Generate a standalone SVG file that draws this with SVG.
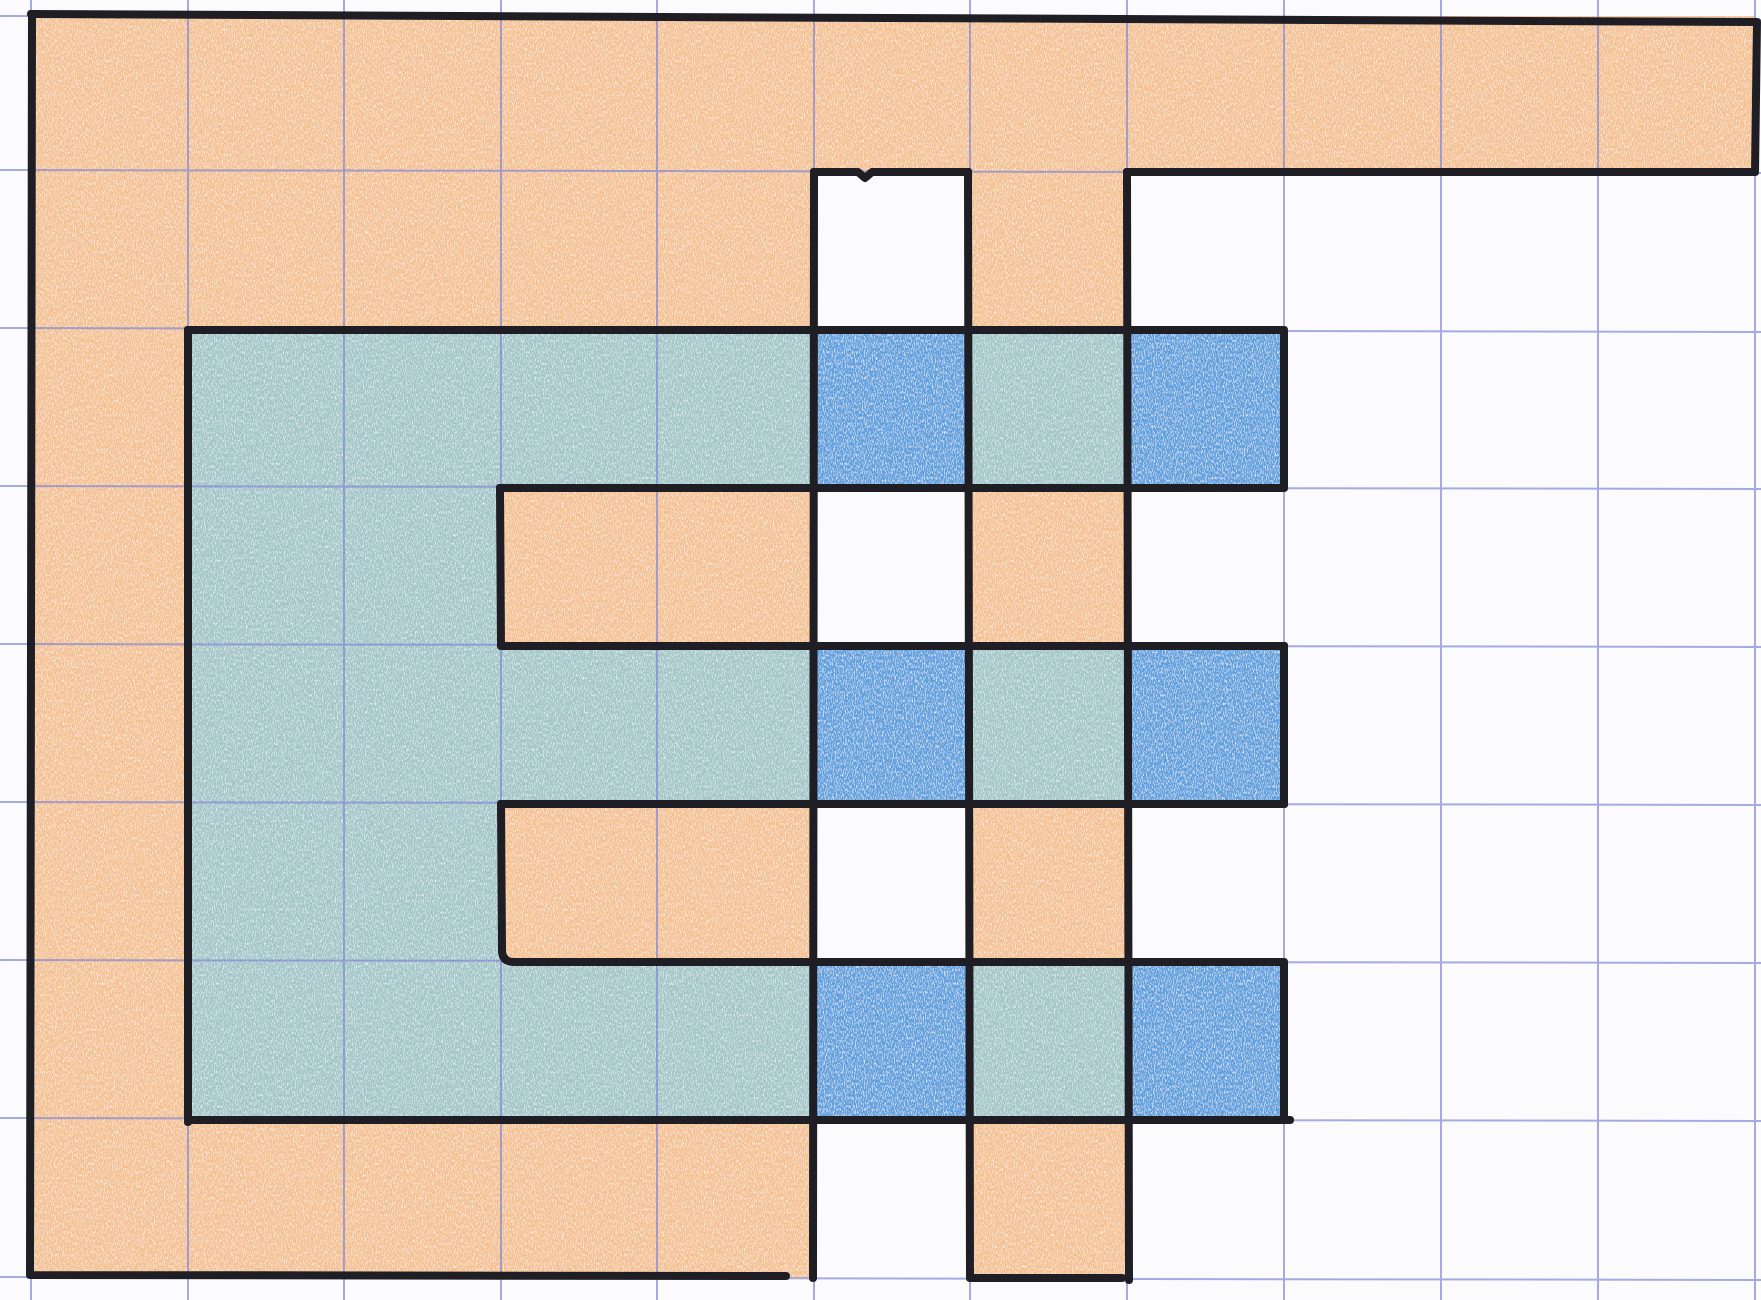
<svg xmlns="http://www.w3.org/2000/svg" width="1761" height="1300" viewBox="0 0 1761 1300">
<defs>
<filter id="pencil" x="0" y="0" width="100%" height="100%">
<feTurbulence type="fractalNoise" baseFrequency="0.9 0.35" numOctaves="2" seed="3" result="n"/>
<feColorMatrix in="n" type="matrix" values="0 0 0 0 1  0 0 0 0 1  0 0 0 0 1  0 0 0 1.6 -0.7" result="speck"/>
<feComposite in="speck" in2="SourceGraphic" operator="in" result="sp"/>
<feMerge><feMergeNode in="SourceGraphic"/><feMergeNode in="sp"/></feMerge>
</filter>
<style>
.or{fill:#f4c192}
.tl{fill:#a3c6c8}
.bl{fill:#5fa0de}
.grid{stroke:#8288d6;stroke-width:2;opacity:0.7;fill:none}
.ink{stroke:#1e1e24;stroke-width:8;stroke-linecap:round;stroke-linejoin:round;fill:none}
</style>
</defs>
<rect width="1761" height="1300" fill="#fbfbfe"/>
<g id="fills" filter="url(#pencil)">
<rect class="or" x="31" y="16" width="1724" height="156"/>
<rect class="or" x="31" y="172" width="157" height="1106"/>
<rect class="or" x="188" y="172" width="626" height="158"/>
<rect class="or" x="188" y="1120" width="626" height="158"/>
<rect class="or" x="970" y="172" width="157" height="1106"/>
<rect class="or" x="500" y="488" width="314" height="158"/>
<rect class="or" x="500" y="804" width="314" height="158"/>
<rect class="tl" x="188" y="330" width="626" height="158"/>
<rect class="tl" x="188" y="488" width="312" height="632"/>
<rect class="tl" x="500" y="646" width="314" height="158"/>
<rect class="tl" x="500" y="962" width="314" height="158"/>
<rect class="tl" x="970" y="330" width="157" height="158"/>
<rect class="tl" x="970" y="646" width="157" height="158"/>
<rect class="tl" x="970" y="962" width="157" height="158"/>
<rect class="bl" x="814" y="330" width="156" height="158"/>
<rect class="bl" x="814" y="646" width="156" height="158"/>
<rect class="bl" x="814" y="962" width="156" height="158"/>
<rect class="bl" x="1127" y="330" width="157" height="158"/>
<rect class="bl" x="1127" y="646" width="157" height="158"/>
<rect class="bl" x="1127" y="962" width="157" height="158"/>
</g>
<g id="grid" class="grid">
<line x1="31" y1="0" x2="31" y2="1300"/>
<line x1="188" y1="0" x2="188" y2="1300"/>
<line x1="344" y1="0" x2="344" y2="1300"/>
<line x1="501" y1="0" x2="501" y2="1300"/>
<line x1="657" y1="0" x2="657" y2="1300"/>
<line x1="814" y1="0" x2="814" y2="1300"/>
<line x1="970" y1="0" x2="970" y2="1300"/>
<line x1="1127" y1="0" x2="1127" y2="1300"/>
<line x1="1284" y1="0" x2="1284" y2="1300"/>
<line x1="1441" y1="0" x2="1441" y2="1300"/>
<line x1="1598" y1="0" x2="1598" y2="1300"/>
<line x1="1755" y1="0" x2="1755" y2="1300"/>
<line x1="0" y1="16" x2="1761" y2="20"/>
<line x1="0" y1="170" x2="1761" y2="173"/>
<line x1="0" y1="328" x2="1761" y2="332"/>
<line x1="0" y1="486" x2="1761" y2="489"/>
<line x1="0" y1="644" x2="1761" y2="647"/>
<line x1="0" y1="802" x2="1761" y2="805"/>
<line x1="0" y1="960" x2="1761" y2="963"/>
<line x1="0" y1="1118" x2="1761" y2="1121"/>
<line x1="0" y1="1277" x2="1761" y2="1280"/>
</g>
<g id="outlines" class="ink">
<path d="M31 14 L1757 22 L1755 172 L1127 172"/>
<path d="M32 14 L30 1275 L786 1276"/>
<path d="M814 172 L858 172 L865 178 L872 172 L968 172"/>
<path d="M814 172 L813 1278"/>
<path d="M968 172 L970 1278 L1122 1278"/>
<path d="M1127 172 L1129 1280"/>
<path d="M188 330 L1284 330 L1284 486"/>
<path d="M188 330 L188 1122"/>
<path d="M188 1120 L1290 1120"/>
<path d="M1284 1120 L1284 964"/>
<path d="M1284 646 L1284 804"/>
<path d="M500 488 L1284 488"/>
<path d="M500 488 L501 646 L1284 646"/>
<path d="M501 804 L1284 804"/>
<path d="M501 804 L502 952 Q503 962 514 962 L1284 962"/>
</g>
</svg>
